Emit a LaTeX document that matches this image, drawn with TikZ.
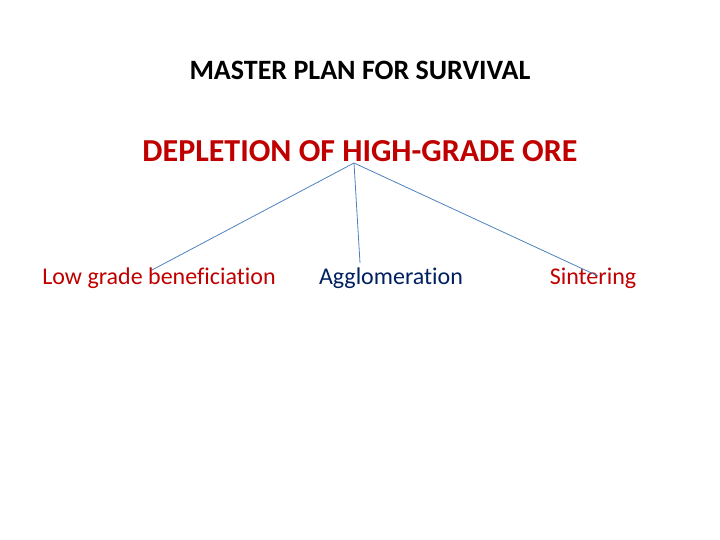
\documentclass[tikz,border=0pt]{standalone}
\usepackage{fontspec}
\setmainfont{Carlito}[Ligatures=NoCommon]
\definecolor{hdred}{RGB}{192,0,0}
\definecolor{agblue}{RGB}{0,32,96}
\definecolor{lineblue}{RGB}{79,129,189}
\begin{document}
\begin{tikzpicture}[x=1pt,y=1pt,
  title/.style={font=\fontsize{28}{32}\selectfont\bfseries, text=black, inner sep=0pt},
  heading/.style={font=\fontsize{32}{36}\selectfont\bfseries, text=hdred, inner sep=0pt},
  label/.style={font=\fontsize{24}{28}\selectfont, inner sep=0pt},
  conn/.style={draw=lineblue, line width=0.8pt}]
\useasboundingbox (0,0) rectangle (720,-540);
\node[title] (t) at (360,-70) {MASTER PLAN FOR SURVIVAL};
\node[heading] (h) at (360,-151) {DEPLETION OF HIGH-GRADE ORE};
\node[label, text=hdred] (l) at (159,-278) {Low grade beneficiation};
\node[label, text=agblue] (a) at (391,-278) {Agglomeration};
\node[label, text=hdred] (s) at (593,-278) {Sintering};
\coordinate (apex) at (354,-163);
\coordinate (le) at (152,-270);
\coordinate (ae) at (360,-263);
\coordinate (se) at (598,-276);
\draw[conn] (apex) -- (le);
\draw[conn] (apex) -- (ae);
\draw[conn] (apex) -- (se);
\end{tikzpicture}
\end{document}
